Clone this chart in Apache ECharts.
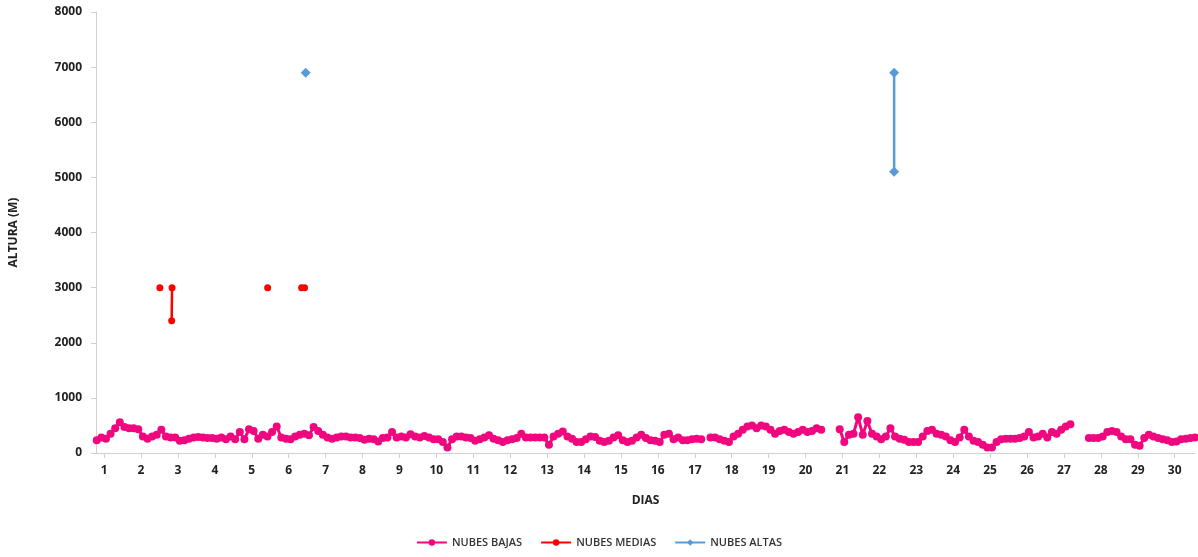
<!DOCTYPE html>
<html>
<head>
<meta charset="utf-8">
<script src="https://cdn.jsdelivr.net/npm/echarts@6/dist/echarts.min.js"></script>
<style>html,body{margin:0;background:#fff}#chart{width:1198px;height:557px}</style>
</head>
<body>
<div id="chart"></div>
<script>
// valores por dia (8 lecturas por dia), null = sin dato
var bajas = [
    [230, 280, 260, 350, 450, 560, 470, 450],
    [450, 430, 300, 260, 300, 330, 420, 300],
    [280, 280, 220, 230, 260, 280, 290, 280],
    [270, 270, 260, 280, 250, 300, 250, 380],
    [250, 430, 400, 260, 330, 300, 380, 480],
    [280, 260, 250, 300, 330, 350, 320, 470],
    [400, 330, 280, 260, 280, 300, 300, 280],
    [280, 270, 240, 260, 250, 210, 270, 280],
    [380, 280, 300, 280, 340, 300, 280, 310],
    [280, 250, 250, 200, 100, 250, 300, 300],
    [280, 270, 220, 250, 280, 320, 260, 230],
    [200, 230, 250, 270, 350, 280, 280, 280],
    [280, 280, 150, 300, 350, 390, 300, 260],
    [200, 200, 250, 300, 290, 220, 200, 220],
    [280, 320, 230, 200, 220, 280, 330, 270],
    [230, 220, 200, 330, 350, 250, 280, 230],
    [230, 250, 260, 250, null, 280, 280, 250],
    [220, 200, 300, 350, 420, 480, 500, 450],
    [500, 480, 420, 350, 400, 420, 380, 350],
    [380, 420, 380, 400, 450, 420, null, null],
    [null, 430, 200, 330, 350, 650, 330, 580],
    [350, 300, 250, 300, 450, 300, 260, 240],
    [200, 200, 200, 300, 400, 420, 350, 330],
    [300, 230, 200, 280, 420, 300, 220, 200],
    [150, 100, 100, 200, 250, 260, 260, 260],
    [270, 300, 380, 280, 300, 350, 280, 380],
    [350, 420, 480, 520, null, null, null, 270],
    [270, 270, 300, 380, 400, 380, 300, 250],
    [250, 150, 130, 270, 330, 300, 270, 250],
    [230, 200, 210, 250, 260, 270, 280, 260]
];
var mediasDia = [2.51, null, 2.83, 2.84, null, 5.43, null, 6.35, 6.43];
var mediasAlt = [3000, null, 2400, 3000, null, 3000, null, 3000, 3000];
var altasDia = [6.46, null, 22.4, 22.4];
var altasAlt = [6900, null, 5100, 6900];
var dias = [];
for (var d = 1; d <= 30; d++) dias.push(d);

var serieBajas = [];
bajas.forEach(function (vals, i) {
    vals.forEach(function (v, j) {
        serieBajas.push([i + 1 - 0.2 + j / 8, v]);
    });
});
function pares(xs, ys) {
    return xs.map(function (x, i) { return x == null ? [null, null] : [x, ys[i]]; });
}

var myChart = echarts.init(document.getElementById('chart'));
var fuente = { fontFamily: 'Open Sans', fontWeight: 'bold', fontSize: 12, color: '#222' };
var option = {
    animation: false,
    grid: { left: 95, right: 3, top: 12, bottom: 104 },
    legend: {
        bottom: 4, itemWidth: 30, itemHeight: 8, itemGap: 18,
        textStyle: { fontFamily: 'Open Sans', fontSize: 11, fontWeight: 600, color: '#333' },
        data: ['NUBES BAJAS', 'NUBES MEDIAS', 'NUBES ALTAS']
    },
    xAxis: {
        type: 'value', min: 0.78, max: 30.55,
        name: 'DIAS', nameLocation: 'middle', nameGap: 42, nameTextStyle: fuente,
        axisLine: { lineStyle: { color: '#d0d0d0' } },
        axisTick: { show: true, customValues: dias, lineStyle: { color: '#d0d0d0' } },
        axisLabel: Object.assign({ customValues: dias, margin: 12 }, fuente),
        splitLine: { show: false }
    },
    yAxis: {
        type: 'value', min: 0, max: 8000, interval: 1000,
        name: 'ALTURA (M)', nameLocation: 'middle', nameGap: 76, nameTextStyle: fuente,
        axisLine: { show: true, lineStyle: { color: '#d0d0d0' } },
        axisLabel: Object.assign({ margin: 14, formatter: function (v) { return String(v); } }, fuente),
        splitLine: { show: false }
    },
    series: [{
        name: 'NUBES BAJAS', type: 'line', data: serieBajas,
        symbol: 'circle', symbolSize: 8, color: '#F0077F',
        lineStyle: { width: 3 }, connectNulls: false
    }, {
        name: 'NUBES MEDIAS', type: 'line', data: pares(mediasDia, mediasAlt),
        symbol: 'circle', symbolSize: 7, color: '#FF0000', lineStyle: { width: 2.5 }
    }, {
        name: 'NUBES ALTAS', type: 'line', data: pares(altasDia, altasAlt),
        symbol: 'diamond', symbolSize: 10, color: '#5B9BD5', lineStyle: { width: 2.5 }
    }]
};
myChart.setOption(option);
</script>
</body>
</html>
